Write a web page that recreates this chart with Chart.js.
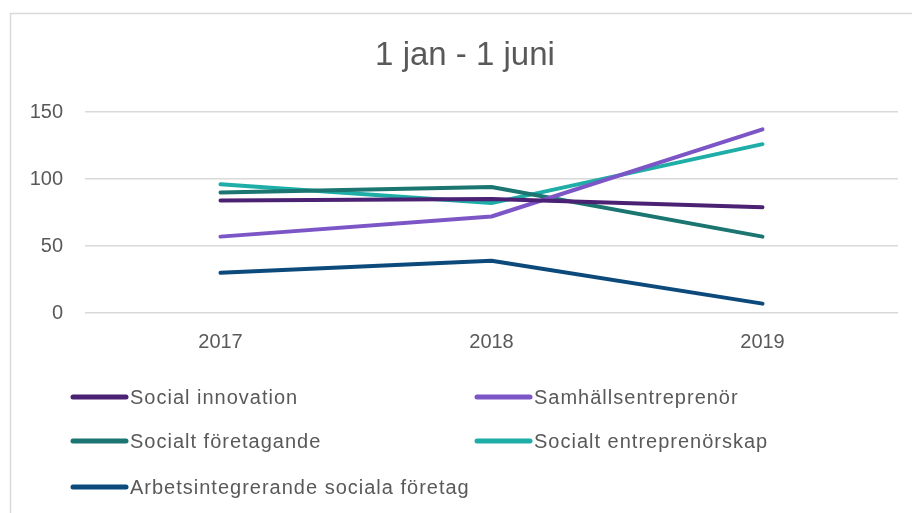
<!DOCTYPE html>
<html>
<head>
<meta charset="utf-8">
<script src="https://cdn.jsdelivr.net/npm/chart.js@4/dist/chart.umd.min.js"></script>
<style>
  html, body { margin: 0; padding: 0; background: #fff; }
  #wrap { width: 912px; height: 513px; position: relative; }
</style>
</head>
<body>
<div id="wrap"><canvas id="lineChart" width="912" height="513"></canvas></div>
<script>
// chart data
const years = ['2017', '2018', '2019'];
const socialInnovation = [84, 85, 79];
const samhallsentreprenor = [57, 72, 137];
const socialtForetagande = [90, 94, 57];
const socialtEntreprenorskap = [96, 82, 126];
const arbetsintegrerande = [30, 39, 7];
const yTicks = [0, 50, 100, 150];

const seriesNames = [
    'Social innovation',
    'Samhällsentreprenör',
    'Socialt företagande',
    'Socialt entreprenörskap',
    'Arbetsintegrerande sociala företag'
];
const seriesColors = ['#4b2173', '#7c56c6', '#1b7571', '#1eada7', '#0d4a7c'];
const seriesValues = [socialInnovation, samhallsentreprenor, socialtForetagande, socialtEntreprenorskap, arbetsintegrerande];

const FONT = '"Liberation Sans", Arial, sans-serif';
const TEXT_GREY = '#595959';

// frame + title + two-column legend, drawn on the canvas
const decorPlugin = {
    id: 'decor',
    beforeDraw(chart) {
        const c = chart.ctx;
        c.save();
        c.fillStyle = '#fff';
        c.fillRect(0, 0, chart.width, chart.height);
        c.strokeStyle = '#d9d9d9';
        c.lineWidth = 1.5;
        c.strokeRect(10.5, 13.5, chart.width + 20, chart.height + 20);
        c.restore();
    },
    afterDraw(chart) {
        const c = chart.ctx;
        c.save();
        c.fillStyle = TEXT_GREY;
        c.font = '33px ' + FONT;
        c.textAlign = 'center';
        c.textBaseline = 'middle';
        c.fillText('1 jan - 1 juni', 465, 56);

        // legend
        const cols = [70, 474];
        const rows = [397, 441, 487];
        c.font = '20px ' + FONT;
        c.letterSpacing = '1px';
        c.textAlign = 'left';
        chart.data.datasets.forEach((ds, i) => {
            const x = cols[i % 2];
            const y = rows[Math.floor(i / 2)];
            c.strokeStyle = ds.borderColor;
            c.lineWidth = 5;
            c.lineCap = 'round';
            c.beginPath();
            c.moveTo(x + 3, y);
            c.lineTo(x + 56, y);
            c.stroke();
            c.fillStyle = TEXT_GREY;
            c.fillText(ds.label, x + 60, y + 1);
        });
        c.restore();
    }
};

const ctx = document.getElementById('lineChart').getContext('2d');

new Chart(ctx, {
    type: 'line',
    data: {
        labels: years,
        datasets: seriesNames.map((name, i) => ({
            label: name,
            data: seriesValues[i],
            borderColor: seriesColors[i],
            backgroundColor: seriesColors[i],
            borderWidth: 4,
            pointRadius: 0,
            tension: 0,
            borderCapStyle: 'round',
            borderJoinStyle: 'round'
        }))
    },
    options: {
        responsive: false,
        animation: false,
        layout: { padding: { left: 20, right: 14, top: 112, bottom: 150 } },
        plugins: {
            legend: { display: false },
            title: { display: false },
            tooltip: { enabled: false }
        },
        scales: {
            x: {
                offset: true,
                grid: { display: false, drawTicks: false },
                border: { display: false },
                ticks: { color: TEXT_GREY, font: { family: FONT, size: 20 }, padding: 17 },
                afterFit(scale) { scale.height = 50; }
            },
            y: {
                min: 0,
                max: 150,
                afterBuildTicks(scale) { scale.ticks = yTicks.map(v => ({ value: v })); },
                grid: { color: '#d9d9d9', lineWidth: 1.5, drawTicks: false },
                border: { display: false },
                ticks: { color: TEXT_GREY, font: { family: FONT, size: 20 }, padding: 22 },
                afterFit(scale) { scale.width = 65; }
            }
        }
    },
    plugins: [decorPlugin]
});
</script>
</body>
</html>
